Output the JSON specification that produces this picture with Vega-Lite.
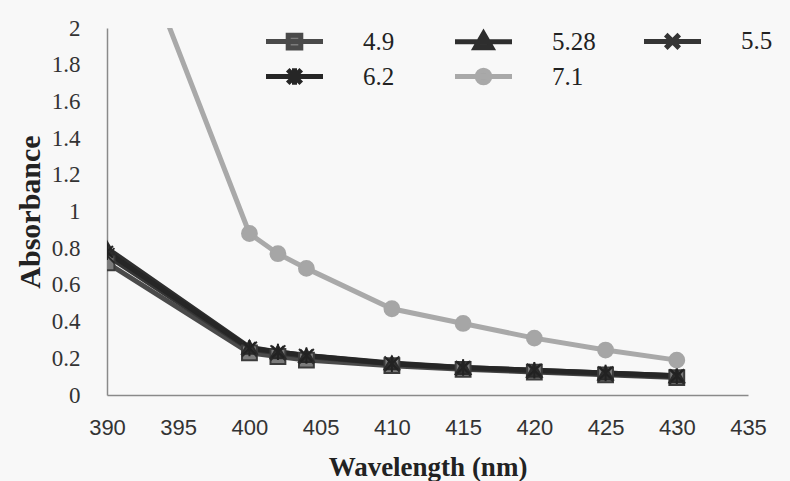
{
  "$schema": "https://vega.github.io/schema/vega-lite/v6.json",
  "width": 641,
  "height": 367,
  "autosize": "none",
  "padding": {"left": 107, "top": 28, "right": 42, "bottom": 86},
  "background": "#f8f8f8",
  "config": {
    "view": {"stroke": null},
    "axis": {"grid": false, "ticks": false, "labelFlush": false, "labelOverlap": false, "domainColor": "#8a8a8a", "domainWidth": 1.5, "labelColor": "#333", "titleColor": "#222"}
  },
  "data": {
    "values": [
      {"series": "4.9", "wl": 390, "abs": 0.72}, {"series": "4.9", "wl": 400, "abs": 0.23}, {"series": "4.9", "wl": 402, "abs": 0.21}, {"series": "4.9", "wl": 404, "abs": 0.19}, {"series": "4.9", "wl": 410, "abs": 0.16}, {"series": "4.9", "wl": 415, "abs": 0.14}, {"series": "4.9", "wl": 420, "abs": 0.125}, {"series": "4.9", "wl": 425, "abs": 0.11}, {"series": "4.9", "wl": 430, "abs": 0.095},
      {"series": "5.28", "wl": 390, "abs": 0.8}, {"series": "5.28", "wl": 400, "abs": 0.26}, {"series": "5.28", "wl": 402, "abs": 0.235}, {"series": "5.28", "wl": 404, "abs": 0.215}, {"series": "5.28", "wl": 410, "abs": 0.175}, {"series": "5.28", "wl": 415, "abs": 0.15}, {"series": "5.28", "wl": 420, "abs": 0.135}, {"series": "5.28", "wl": 425, "abs": 0.12}, {"series": "5.28", "wl": 430, "abs": 0.105},
      {"series": "5.5", "wl": 390, "abs": 0.76}, {"series": "5.5", "wl": 400, "abs": 0.25}, {"series": "5.5", "wl": 402, "abs": 0.23}, {"series": "5.5", "wl": 404, "abs": 0.21}, {"series": "5.5", "wl": 410, "abs": 0.17}, {"series": "5.5", "wl": 415, "abs": 0.145}, {"series": "5.5", "wl": 420, "abs": 0.13}, {"series": "5.5", "wl": 425, "abs": 0.115}, {"series": "5.5", "wl": 430, "abs": 0.1},
      {"series": "6.2", "wl": 390, "abs": 0.78}, {"series": "6.2", "wl": 400, "abs": 0.255}, {"series": "6.2", "wl": 402, "abs": 0.235}, {"series": "6.2", "wl": 404, "abs": 0.215}, {"series": "6.2", "wl": 410, "abs": 0.17}, {"series": "6.2", "wl": 415, "abs": 0.15}, {"series": "6.2", "wl": 420, "abs": 0.135}, {"series": "6.2", "wl": 425, "abs": 0.12}, {"series": "6.2", "wl": 430, "abs": 0.105},
      {"series": "7.1", "wl": 390, "abs": 2.88}, {"series": "7.1", "wl": 400, "abs": 0.88}, {"series": "7.1", "wl": 402, "abs": 0.77}, {"series": "7.1", "wl": 404, "abs": 0.69}, {"series": "7.1", "wl": 410, "abs": 0.47}, {"series": "7.1", "wl": 415, "abs": 0.39}, {"series": "7.1", "wl": 420, "abs": 0.31}, {"series": "7.1", "wl": 425, "abs": 0.245}, {"series": "7.1", "wl": 430, "abs": 0.19}
    ]
  },
  "encoding": {
    "x": {
      "field": "wl", "type": "quantitative",
      "scale": {"domain": [390, 435], "nice": false, "zero": false},
      "axis": {"values": [390, 395, 400, 405, 410, 415, 420, 425, 430, 435], "format": "d", "labelFont": "Liberation Sans", "labelFontSize": 22, "labelPadding": 22, "title": "Wavelength (nm)", "titleFont": "Liberation Serif", "titleFontSize": 27, "titleFontWeight": "bold", "titlePadding": 16}
    },
    "y": {
      "field": "abs", "type": "quantitative",
      "scale": {"domain": [0, 2], "nice": false},
      "axis": {"values": [0, 0.2, 0.4, 0.6, 0.8, 1, 1.2, 1.4, 1.6, 1.8, 2], "format": "~g", "labelFont": "Liberation Serif", "labelFontSize": 23, "labelPadding": 27, "title": "Absorbance", "titleFont": "Liberation Serif", "titleFontSize": 30, "titleFontWeight": "bold", "titlePadding": 6}
    }
  },
  "layer": [
    {
      "mark": {"type": "line", "clip": true},
      "encoding": {
        "color": {"field": "series", "type": "nominal", "scale": {"domain": ["4.9", "5.28", "5.5", "6.2", "7.1"], "range": ["#4a4a4a", "#2e2e2e", "#353535", "#262626", "#a9a9a9"]}, "legend": null},
        "strokeWidth": {"field": "series", "type": "nominal", "scale": {"domain": ["4.9", "5.28", "5.5", "6.2", "7.1"], "range": [5, 5, 5, 5, 4]}, "legend": null}
      }
    },
    {
      "mark": {"type": "point", "filled": true, "clip": true, "opacity": 1, "strokeWidth": 2, "size": 220},
      "encoding": {
        "shape": {"field": "series", "type": "nominal", "scale": {"domain": ["4.9", "5.28", "5.5", "6.2", "7.1"], "range": ["square", "triangle-up", "M-1,-1L1,1M-1,1L1,-1", "M0,-1.1V1.1M-0.8,-0.8L0.8,0.8M-0.8,0.8L0.8,-0.8", "circle"]}, "legend": null},
        "fill": {"field": "series", "type": "nominal", "scale": {"domain": ["4.9", "5.28", "5.5", "6.2", "7.1"], "range": ["#7c7c7c", "#333333", "#333333", "#2a2a2a", "#a6a6a6"]}, "legend": null},
        "stroke": {"field": "series", "type": "nominal", "scale": {"domain": ["4.9", "5.28", "5.5", "6.2", "7.1"], "range": ["#3c3c3c", "#2a2a2a", "#2a2a2a", "#222222", "#a6a6a6"]}, "legend": null}
      }
    },
    {
      "mark": {"type": "point", "filled": true, "opacity": 0, "clip": true},
      "encoding": {
        "shape": {"field": "series", "type": "nominal", "scale": {"domain": ["4.9", "5.28", "5.5", "6.2", "7.1"], "range": [
          "M-1.9,0H1.9M-0.42,-0.42H0.42V0.42H-0.42Z",
          "M-1.9,0H1.9M0,-0.55L0.55,0.4H-0.55Z",
          "M-1.9,0H1.9M-0.45,-0.45L0.45,0.45M-0.45,0.45L0.45,-0.45",
          "M-1.9,0H1.9M0,-0.55V0.55M-0.45,-0.45L0.45,0.45M-0.45,0.45L0.45,-0.45",
          "M-1.9,0H1.9M0.42,0A0.42,0.42,0,1,1,-0.42,0A0.42,0.42,0,1,1,0.42,0Z"
        ]},
          "legend": {"title": null, "orient": "none", "direction": "horizontal", "legendX": 170, "legendY": -5, "columns": 3, "gridAlign": "all", "symbolSize": 900, "symbolStrokeWidth": 5, "symbolOpacity": 1, "labelFont": "Liberation Serif", "labelFontSize": 25, "labelColor": "#222", "labelOffset": 51, "columnPadding": 38, "rowPadding": -3}},
        "fill": {"field": "series", "type": "nominal", "scale": {"domain": ["4.9", "5.28", "5.5", "6.2", "7.1"], "range": ["#7c7c7c", "#333333", "#333333", "#2a2a2a", "#a6a6a6"]}},
        "stroke": {"field": "series", "type": "nominal", "scale": {"domain": ["4.9", "5.28", "5.5", "6.2", "7.1"], "range": ["#4a4a4a", "#2e2e2e", "#353535", "#262626", "#a9a9a9"]}}
      }
    }
  ],
  "resolve": {"scale": {"shape": "independent", "fill": "independent", "stroke": "independent"}}
}
